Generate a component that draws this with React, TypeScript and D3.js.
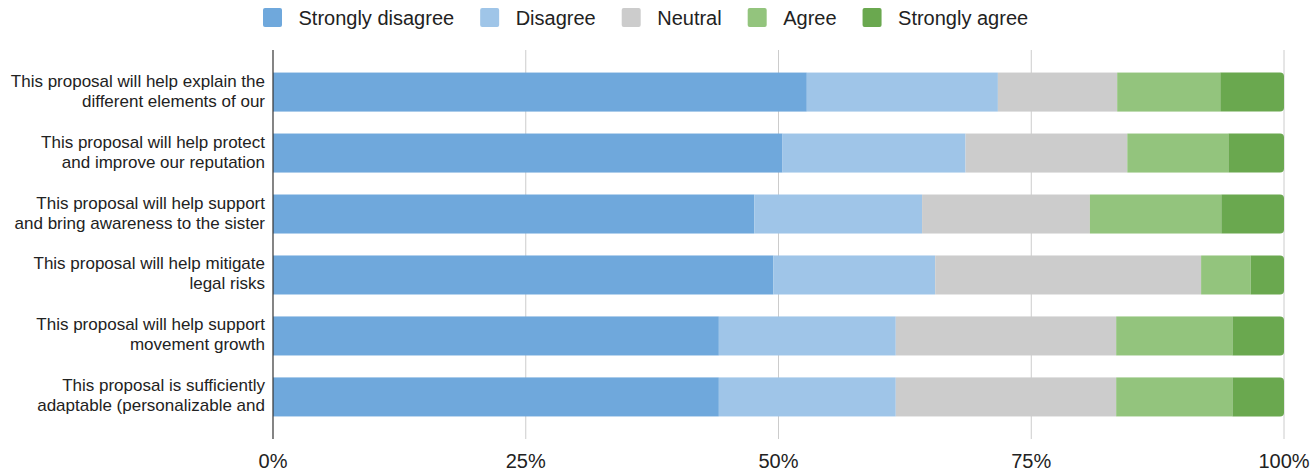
import React, { useEffect, useRef } from "react";
import * as d3 from "d3";

const categories = [
  "This proposal will help explain the\ndifferent elements of our",
  "This proposal will help protect\nand improve our reputation",
  "This proposal will help support\nand bring awareness to the sister",
  "This proposal will help mitigate\nlegal risks",
  "This proposal will help support\nmovement growth",
  "This proposal is sufficiently\nadaptable (personalizable and",
];
const seriesNames = ["Strongly disagree", "Disagree", "Neutral", "Agree", "Strongly agree"];
const stronglyDisagree = [52.8, 50.4, 47.6, 49.5, 44.1, 44.1];
const disagree = [18.9, 18.1, 16.6, 16.0, 17.5, 17.5];
const neutral = [11.8, 16.0, 16.6, 26.3, 21.8, 21.8];
const agree = [10.2, 10.0, 13.0, 4.9, 11.5, 11.5];
const stronglyAgree = [6.3, 5.5, 6.2, 3.3, 5.1, 5.1];
const colors = ["#6fa8dc", "#9fc5e8", "#cccccc", "#93c47d", "#6aa84f"];
const tickValues = [0, 25, 50, 75, 100];

const W = 1312;
const H = 472;
const FONT = "Arial, 'Liberation Sans', sans-serif";

export default function App() {
  const ref = useRef<SVGSVGElement>(null);

  useEffect(() => {
    document.body.style.margin = "0";
    const svg = d3.select(ref.current);
    svg.selectAll("*").remove();

    const left = 273;
    const right = 1284;
    const top = 50;
    const bottom = 439;

    const x = d3.scaleLinear().domain([0, 100]).range([left, right]);
    const y = d3
      .scaleBand<number>()
      .domain(d3.range(categories.length))
      .range([top, bottom])
      .paddingInner(0.36)
      .paddingOuter(0.37);

    const seriesData = [stronglyDisagree, disagree, neutral, agree, stronglyAgree];

    // gridlines
    svg
      .append("g")
      .selectAll("line")
      .data(tickValues.filter((t) => t > 0))
      .join("line")
      .attr("x1", (d) => x(d))
      .attr("x2", (d) => x(d))
      .attr("y1", top)
      .attr("y2", bottom)
      .attr("stroke", "#cccccc")
      .attr("stroke-width", 1);

    // bars
    const barsG = svg.append("g");
    categories.forEach((_, i) => {
      let acc = 0;
      const y0 = y(i)!;
      const bh = y.bandwidth();
      seriesData.forEach((s, k) => {
        const v = s[i];
        const x0 = x(acc);
        const x1 = x(acc + v);
        acc += v;
        if (k === seriesData.length - 1) {
          const r = 4;
          const p = d3.path();
          p.moveTo(x0, y0);
          p.lineTo(x1 - r, y0);
          p.arcTo(x1, y0, x1, y0 + r, r);
          p.lineTo(x1, y0 + bh - r);
          p.arcTo(x1, y0 + bh, x1 - r, y0 + bh, r);
          p.lineTo(x0, y0 + bh);
          p.closePath();
          barsG.append("path").attr("d", p.toString()).attr("fill", colors[k]);
        } else {
          barsG
            .append("rect")
            .attr("x", x0)
            .attr("y", y0)
            .attr("width", Math.max(0, x1 - x0))
            .attr("height", bh)
            .attr("fill", colors[k]);
        }
      });
    });

    // zero axis line
    svg
      .append("line")
      .attr("x1", x(0))
      .attr("x2", x(0))
      .attr("y1", top)
      .attr("y2", bottom)
      .attr("stroke", "#333333")
      .attr("stroke-width", 1.2);

    // x tick labels
    svg
      .append("g")
      .selectAll("text")
      .data(tickValues)
      .join("text")
      .attr("x", (d) => x(d))
      .attr("y", 468)
      .attr("text-anchor", "middle")
      .attr("font-family", FONT)
      .attr("font-size", 20)
      .attr("fill", "#222222")
      .text((d) => `${d}%`);

    // y labels
    const yl = svg.append("g");
    categories.forEach((c, i) => {
      const cy = y(i)! + y.bandwidth() / 2;
      const lines = c.split("\n");
      const t = yl
        .append("text")
        .attr("text-anchor", "end")
        .attr("font-family", FONT)
        .attr("font-size", 17)
        .attr("fill", "#222222");
      lines.forEach((ln, j) => {
        t.append("tspan")
          .attr("x", left - 8)
          .attr("y", cy - 5.5 + j * 20)
          .text(ln);
      });
    });

    // legend
    const lg = svg.append("g");
    let lx = 263;
    seriesNames.forEach((name, k) => {
      lg.append("rect")
        .attr("x", lx)
        .attr("y", 8)
        .attr("width", 19)
        .attr("height", 19)
        .attr("rx", 2)
        .attr("fill", colors[k]);
      const t = lg
        .append("text")
        .attr("x", lx + 35.5)
        .attr("y", 24.5)
        .attr("font-family", FONT)
        .attr("font-size", 20)
        .attr("fill", "#222222")
        .text(name);
      const w = (t.node() as SVGTextElement).getComputedTextLength();
      lx = lx + 35.5 + w + 26;
    });
  }, []);

  return <svg ref={ref} width={W} height={H} style={{ display: "block" }} />;
}
